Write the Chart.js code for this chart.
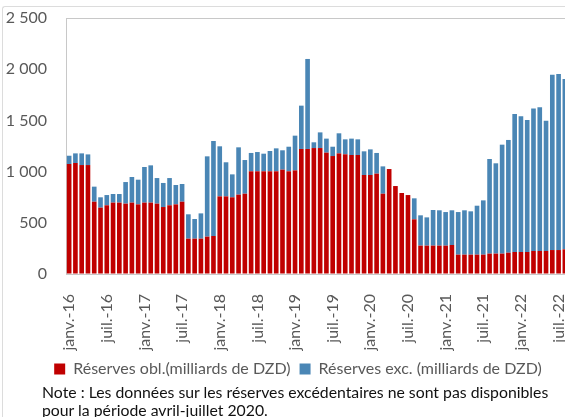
<!DOCTYPE html>
<html>
<head>
<meta charset="utf-8">
<script src="https://cdn.jsdelivr.net/npm/chart.js@4"></script>
<style>
  body { margin: 0; width: 565px; height: 417px; overflow: hidden; background: #fff; position: relative; font-family: Lato, sans-serif; }
  #frame { position: absolute; top: 6px; left: 2px; width: 620px; height: 440px; border-top: 1px solid #dcdcdc; border-left: 1px solid #dcdcdc; border-top-left-radius: 3px; }
  #wrap { position: absolute; top: 0; left: 0; width: 575px; height: 387px; }
  #note { position: absolute; left: 42px; top: 383px; font-size: 15.8px; line-height: 18px; color: #111; white-space: nowrap; }
</style>
</head>
<body>
<div id="frame"></div>
<div id="wrap"><canvas id="barChart"></canvas></div>
<div id="note">Note : Les données sur les réserves excédentaires ne sont pas disponibles<br>pour la période avril-juillet 2020.</div>
<script>
// mois janv.-16 -> août-22
const moisNoms = ['janv.', 'févr.', 'mars', 'avr.', 'mai', 'juin', 'juil.', 'août', 'sept.', 'oct.', 'nov.', 'déc.'];
const annees = ['16', '17', '18', '19', '20', '21', '22'];
const labels = [];
annees.forEach(a => moisNoms.forEach(m => labels.push(m + '-' + a)));
labels.length = 80;

// Réserves obligatoires (milliards de DZD)
const reservesObl = [
  1074, 1084, 1064, 1064, 706, 648, 671, 697, 697, 687, 697, 680,
  697, 697, 687, 654, 671, 680, 706, 345, 345, 345, 365, 371,
  758, 758, 749, 775, 784, 1003, 1003, 1003, 1003, 1003, 1019, 1003,
  1012, 1221, 1221, 1230, 1230, 1185, 1152, 1178, 1169, 1162, 1162, 967,
  967, 980, 784, 1025, 859, 791, 771, 534, 277, 277, 277, 277,
  277, 283, 189, 189, 189, 189, 189, 199, 199, 199, 208, 215,
  215, 215, 225, 225, 225, 234, 234, 241
];

// Réserves excédentaires (milliards de DZD), pas de données avril-juillet 2020
const reservesExc = [
  81, 94, 114, 104, 147, 101, 100, 84, 84, 211, 250, 241,
  348, 364, 250, 235, 266, 189, 173, 238, 192, 247, 784, 928,
  489, 333, 224, 462, 329, 179, 188, 172, 198, 224, 189, 240,
  339, 423, 879, 56, 153, 137, 91, 196, 146, 160, 153, 231,
  250, 202, 267, null, null, null, null, 205, 296, 276, 348, 345,
  328, 339, 416, 433, 423, 478, 530, 924, 882, 1064, 1101, 1348,
  1325, 1289, 1390, 1403, 1272, 1713, 1719, 1663
];

const yTicks = [0, 500, 1000, 1500, 2000, 2500];

function fmt(v) {
  return String(v).replace(/\B(?=(\d{3})+(?!\d))/g, ' ');
}

// decale la legende comme dans l'original
const legendShift = {
  id: 'legendShift',
  afterLayout(chart) {
    const l = chart.legend;
    l.left += 14; l.right += 14;
  }
};

const ctx = document.getElementById('barChart');

new Chart(ctx, {
  type: 'bar',
  data: {
    labels: labels,
    datasets: [{
      label: 'Réserves obl.(milliards de DZD)',
      data: reservesObl,
      backgroundColor: '#C00000',
      borderWidth: 0,
      barPercentage: 0.74,
      categoryPercentage: 1
    }, {
      label: 'Réserves exc. (milliards de DZD)',
      data: reservesExc,
      backgroundColor: '#4A86B5',
      borderWidth: 0,
      barPercentage: 0.74,
      categoryPercentage: 1
    }]
  },
  plugins: [legendShift],
  options: {
    responsive: true,
    maintainAspectRatio: false,
    animation: false,
    layout: {
      padding: { left: 0, right: 7, top: 18, bottom: 0 }
    },
    plugins: {
      tooltip: { enabled: false },
      legend: {
        position: 'bottom',
        labels: {
          boxWidth: 11,
          boxHeight: 11,
          padding: 9,
          color: '#595959',
          font: { family: 'Lato', size: 16 }
        }
      }
    },
    scales: {
      x: {
        stacked: true,
        grid: { display: false },
        border: { display: true, color: '#c8c8c8', width: 1 },
        afterFit: function(scale) {
          scale.height = 78;
          scale.paddingLeft = 0; scale.paddingRight = 0;
        },
        ticks: {
          autoSkip: false,
          maxRotation: 90,
          minRotation: 90,
          padding: 12,
          color: '#595959',
          font: { family: 'Lato', size: 16 },
          callback: function(val, i) {
            return i % 6 === 0 ? labels[i] : '';
          }
        }
      },
      y: {
        stacked: true,
        min: 0,
        max: 2500,
        afterFit: function(scale) {
          scale.width = 66;
          scale.paddingTop = 0; scale.paddingBottom = 0;
        },
        afterBuildTicks: function(scale) {
          scale.ticks = yTicks.map(v => ({ value: v }));
        },
        grid: {
          drawTicks: false,
          color: function(c) {
            return c.tick && c.tick.value === 2500 ? '#c8c8c8' : 'rgba(0,0,0,0)';
          }
        },
        border: { display: true, color: '#c8c8c8', width: 1 },
        ticks: {
          padding: 19,
          color: '#595959',
          font: { family: 'Lato', size: 16 },
          callback: function(v) { return fmt(v); }
        }
      }
    }
  }
});
</script>
</body>
</html>
